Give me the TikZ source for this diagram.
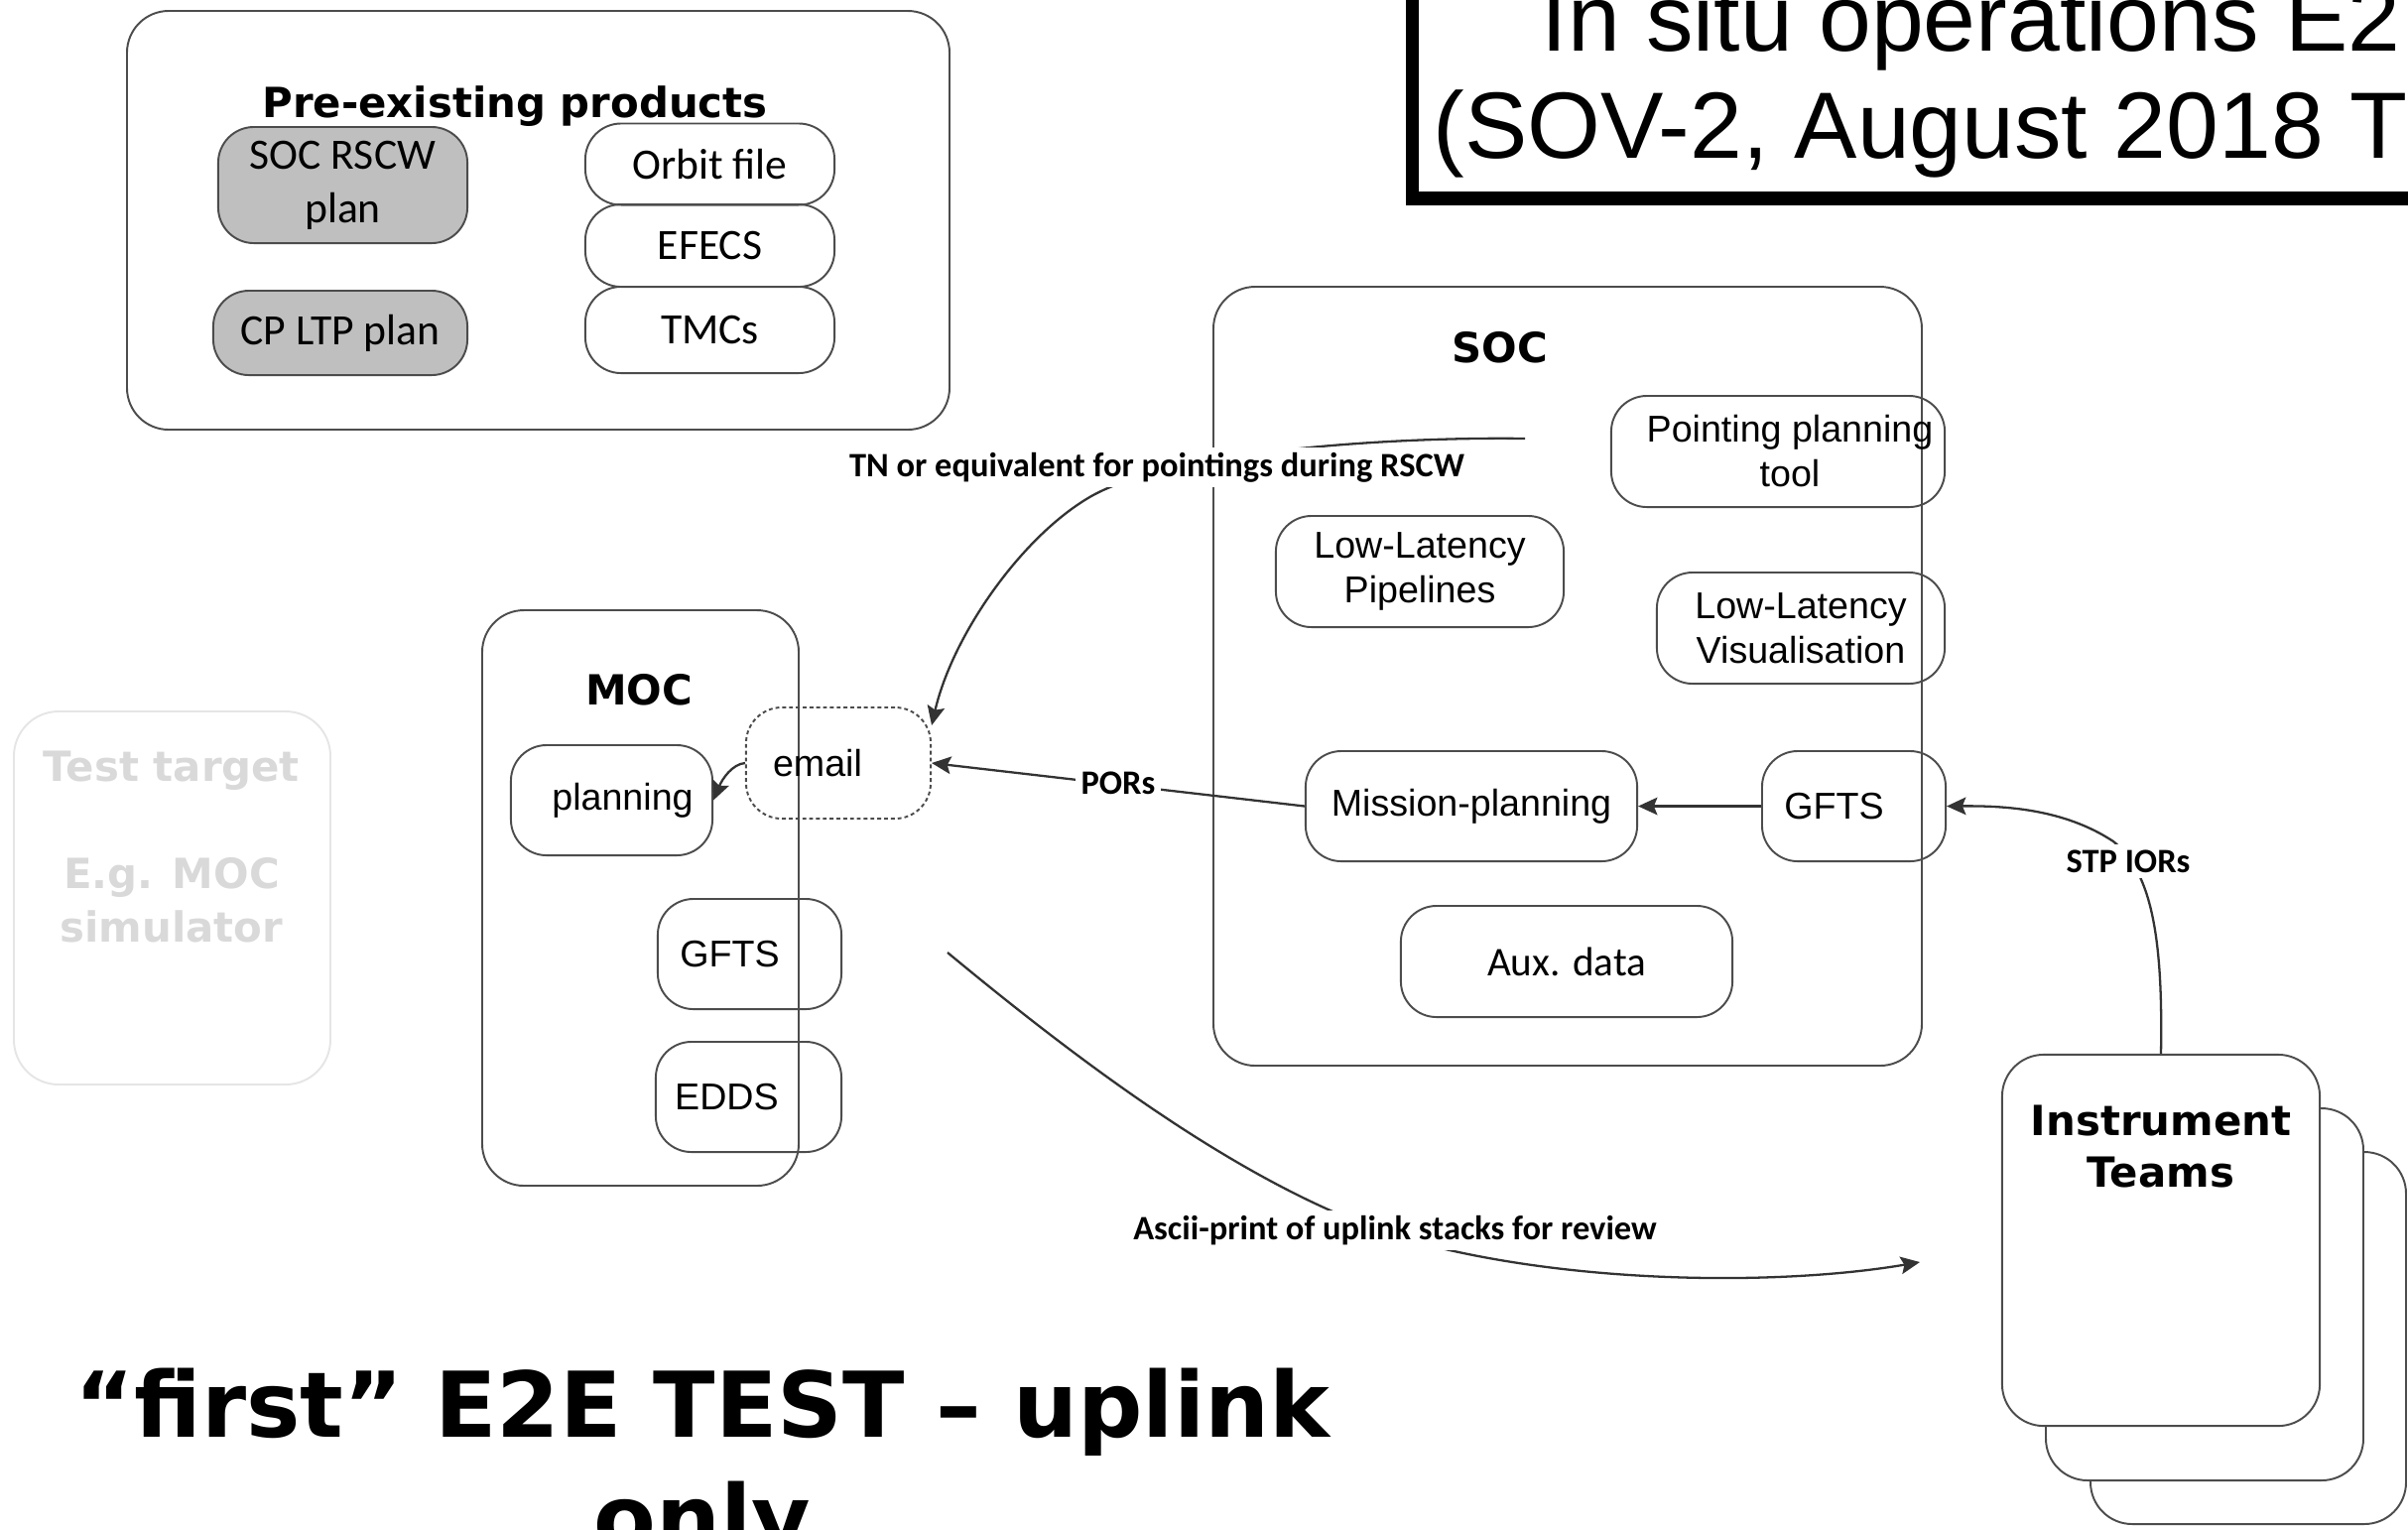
\documentclass[tikz,border=0pt]{standalone}
\usepackage{fontspec}
\setmainfont{Liberation Sans}
\newfontfamily\calfont{Carlito}
\newfontfamily\headfont{DejaVu Sans}
\usetikzlibrary{arrows.meta}
\usetikzlibrary{positioning}

\begin{document}
\begin{tikzpicture}[x=0.01cm,y=-0.01cm,
  group/.style={draw=black!70,line width=0.55pt,rounded corners=0.42cm},
  pill/.style={draw=black!70,line width=0.55pt,rounded corners=0.36cm,inner sep=0pt,align=center,font=\fontsize{10.7}{12.8}\selectfont},
  calpill/.style={pill,font=\calfont\fontsize{12.4}{15.4}\selectfont},
  grey/.style={fill=black!25},
  dashpill/.style={pill,draw=black!70,dash pattern=on 1.1pt off 0.85pt},
  head/.style={font=\headfont\bfseries\fontsize{11.9}{14.8}\selectfont,align=center,inner sep=0pt},
  ghost/.style={draw=black!10,line width=0.55pt,rounded corners=0.45cm},
  lbl/.style={font=\calfont\bfseries\fontsize{9.8}{11}\selectfont,fill=white,inner sep=1.5pt},
  arr/.style={draw=black!80,line width=0.65pt,-{Stealth[length=5.5pt,width=5pt,inset=1pt]}}]
\useasboundingbox (0,0) rectangle (2427,1541);
\clip (0,0) rectangle (2427,1541);

\draw[line width=3.84pt] (1423.5,-100) rectangle (2600,200);
\node[anchor=base west,inner sep=0pt,font=\fontsize{27}{32}\selectfont] (title1) at (1553,51) {In situ operations E2};
\node[anchor=base west,inner sep=0pt,font=\fontsize{27}{32}\selectfont] (title2) at (1444,159) {(SOV-2, August 2018 T};

\draw[group] (128,11) rectangle (957,433);
\node[head,anchor=base] (prename) at (519,118) {Pre-existing products};
\node[calpill,grey,minimum width=2.51cm,minimum height=1.17cm] (rscw) at (345.5,186.5) {SOC RSCW\\plan};
\node[calpill,grey,minimum width=2.56cm,minimum height=0.85cm] (ltp) at (343,335.5) {CP LTP plan};
\node[calpill,minimum width=2.51cm,minimum height=0.82cm] (orbit) at (715.5,165.5) {Orbit file};
\node[calpill,minimum width=2.51cm,minimum height=0.83cm] (efecs) at (715.5,247.5) {EFECS};
\node[calpill,minimum width=2.51cm,minimum height=0.87cm] (tmcs) at (715.5,332.5) {TMCs};

\draw[ghost] (14,717) rectangle (333,1093);
\node[head,anchor=north,text=black!15,font=\headfont\bfseries\fontsize{11.9}{15.4}\selectfont] (target) at (173,756) {Test target\\[15.4pt]E.g. MOC\\simulator};

\draw[group] (1223,289) rectangle (1937,1074);
\node[head,anchor=base] (socname) at (1512,365) {SOC};
\draw[group] (486,615) rectangle (805,1195);
\node[head,anchor=base] (mocname) at (644,710) {MOC};

\draw[group] (2107,1161) rectangle (2425,1536);
\draw[group,fill=white] (2062,1117) rectangle (2382,1492);
\node[group,fill=white,minimum width=3.2cm,minimum height=3.74cm] (teams) at (2178,1250) {};
\node[head,anchor=north] (teamsname) at (2178,1113) {Instrument\\Teams};

\node[pill,minimum width=3.36cm,minimum height=1.12cm] (ppt) at (1792,455) {\hspace*{0.24cm}Pointing planning\\\hspace*{0.24cm}tool};
\node[pill,minimum width=2.9cm,minimum height=1.12cm] (llp) at (1431,576) {Low-Latency\\Pipelines};
\node[pill,minimum width=2.9cm,minimum height=1.12cm] (llv) at (1815,633) {Low-Latency\\Visualisation};
\node[pill,minimum width=3.34cm,minimum height=1.11cm] (mplan) at (1483,812.5) {Mission-planning};
\node[pill,minimum width=1.85cm,minimum height=1.11cm] (sgfts) at (1868.5,812.5) {\raisebox{-0.1cm}{GFTS}\hspace*{0.4cm}};
\node[pill,font=\calfont\fontsize{11.7}{14}\selectfont,minimum width=3.34cm,minimum height=1.12cm] (aux) at (1579,969) {Aux. data};

\node[pill,minimum width=2.03cm,minimum height=1.11cm] (planning) at (616.5,806.5) {\hspace*{0.22cm}planning};
\node[dashpill,minimum width=1.86cm,minimum height=1.12cm] (email) at (845,769) {email\hspace*{0.42cm}};
\node[pill,minimum width=1.85cm,minimum height=1.11cm] (mgfts) at (755.5,961.5) {GFTS\hspace*{0.4cm}};
\node[pill,minimum width=1.87cm,minimum height=1.11cm] (edds) at (754.5,1105.5) {EDDS\hspace*{0.44cm}};

\coordinate (tnstart) at (1537,442);
\coordinate (asciistart) at (955,960);
\coordinate (asciiend) at (1935,1272);

\draw[arr] (tnstart) .. controls (1400,440) and (1180,455) .. (1100,500) .. controls (1030,540) and (960,640) .. (email.22);
\draw[arr] (mplan.west) -- (email.east);
\draw[arr] (sgfts.west) -- (mplan.east);
\draw[arr] (email.west) .. controls (738,770) and (728,785) .. (planning.east);
\draw[arr] (teams.north) .. controls (2180,950) and (2170,880) .. (2130,848) .. controls (2080,815) and (2020,812) .. (sgfts.east);
\draw[arr] (asciistart) .. controls (1100,1080) and (1280,1215) .. (1440,1255) .. controls (1600,1295) and (1800,1295) .. (asciiend);

\node[lbl] (tnlbl) at (1166,471) {TN or equivalent for pointings during RSCW};
\node[lbl] (porslbl) at (1127,789) {PORs};
\node[lbl] (stplbl) at (2145,868) {STP IORs};
\node[lbl] (asciilbl) at (1406,1240) {Ascii-print of uplink stacks for review};

\node[anchor=north,align=center,inner sep=0pt,font=\headfont\bfseries\fontsize{26}{32.4}\selectfont] (headline) at (708,1378) {“first” E2E TEST – uplink\\only};
\end{tikzpicture}
\end{document}
